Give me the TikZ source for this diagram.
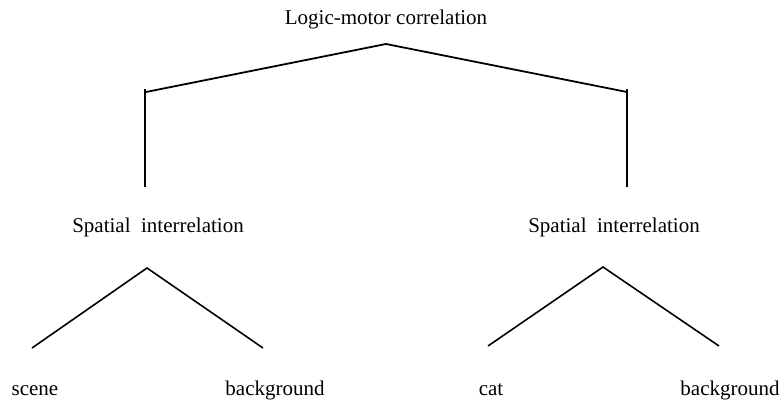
\documentclass[tikz,border=0pt]{standalone}
\usepackage{fontspec}
\setmainfont{Liberation Serif}
\begin{document}
\begin{tikzpicture}[x=1pt,y=-1pt,
  lbl/.style={anchor=base,inner sep=0pt,font=\fontsize{21}{25}\selectfont},
  link/.style={line width=1.8pt,line cap=butt,line join=miter}]
\useasboundingbox (0,0) rectangle (780,401);
% texts
\node[lbl] (root) at (386,25) {Logic-motor correlation};
\node[lbl] (sl) at (158,233) {Spatial\ \ interrelation};
\node[lbl] (sr) at (614,233) {Spatial\ \ interrelation};
\node[lbl] (scene) at (35,395) {scene};
\node[lbl] (bgl) at (275,395) {background};
\node[lbl] (cat) at (491,395) {cat};
\node[lbl] (bgr) at (730,395) {background};
% connector points
\coordinate (ta) at (386,44);
\coordinate (tl) at (146,92);
\coordinate (tr) at (627,92);
\coordinate (tlv) at (145,89);
\coordinate (trv) at (627,89);
\coordinate (lb) at (145,187);
\coordinate (rb) at (627,187);
\coordinate (la) at (147,268);
\coordinate (ll) at (32,348);
\coordinate (lr) at (263,348);
\coordinate (ra) at (603,267);
\coordinate (rl) at (488,346);
\coordinate (rr) at (719,346);
% connectors
\draw[link] (tl) -- (ta) -- (tr);
\draw[link] (tlv) -- (lb);
\draw[link] (trv) -- (rb);
\draw[link,line width=1.6pt] (ll) -- (la) -- (lr);
\draw[link,line width=1.6pt] (rl) -- (ra) -- (rr);
\end{tikzpicture}
\end{document}
